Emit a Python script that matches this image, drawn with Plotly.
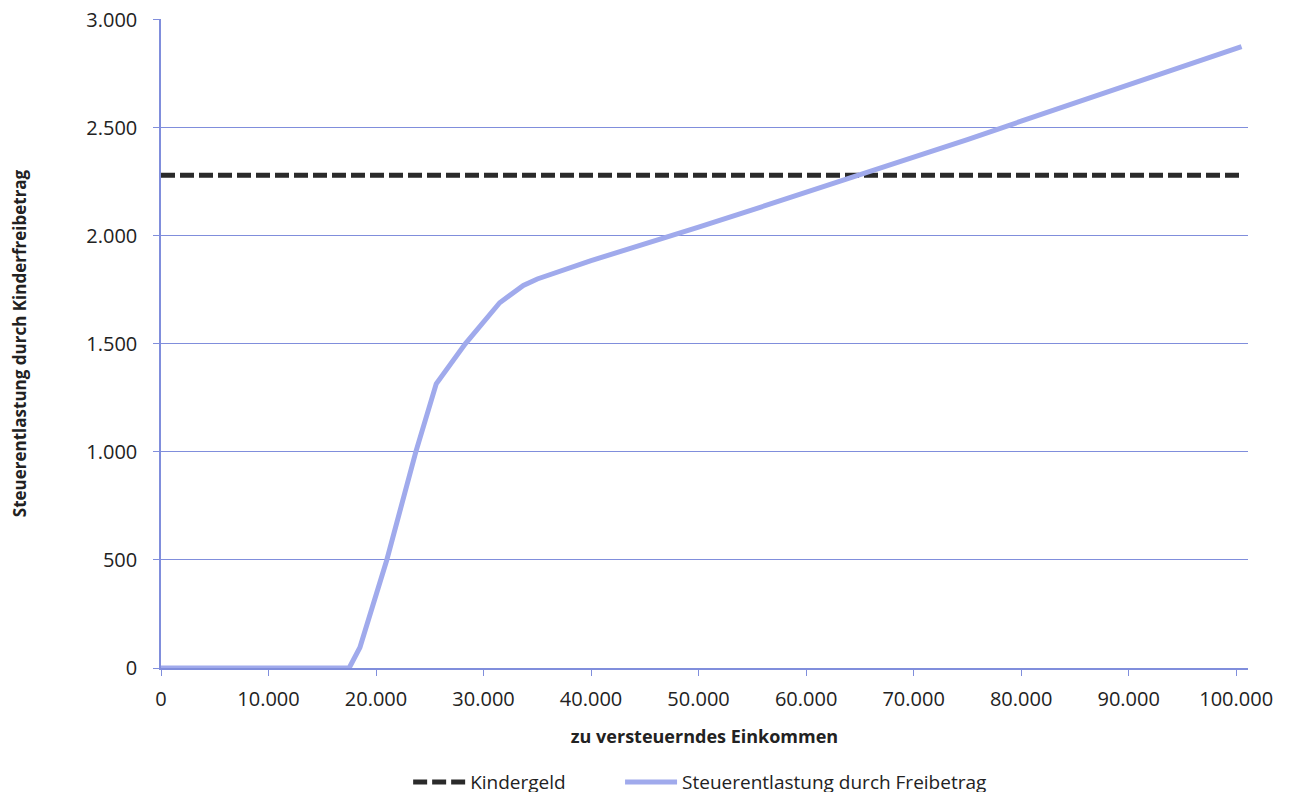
import plotly.graph_objects as go

# Data
einkommen = [0, 17500, 18500, 21000, 23700, 24700, 25600, 28300, 29700, 31500,
             33700, 35000, 40000, 45000, 47500, 50000, 55000, 60000, 65000,
             70000, 75000, 80000, 85000, 90000, 95000, 100500]
freibetrag = [0, 0, 95, 500, 1000, 1165, 1315, 1500, 1580, 1690,
              1770, 1800, 1885, 1960, 2000, 2040, 2120, 2200, 2280,
              2360, 2445, 2530, 2615, 2700, 2785, 2875]
kg_x = [0, 100500]
kindergeld = [2280, 2280]

grid_col = "rgb(128,142,220)"
curve_col = "rgb(160,170,236)"
font_fam = "Open Sans, Lato, sans-serif"
NB = "\u00a0"

fig = go.Figure()
fig.add_trace(go.Scatter(
    x=kg_x, y=kindergeld, mode="lines", name="Kindergeld" + NB * 10,
    line=dict(color="#2a2a2a", width=5, dash="14px,5px"),
))
fig.add_trace(go.Scatter(
    x=einkommen, y=freibetrag, mode="lines",
    name="Steuerentlastung durch Freibetrag",
    line=dict(color=curve_col, width=5),
))

# the page body adds an 8px offset, margins compensate for it;
# extra height below keeps the legend from pushing the plot margins
fig.update_layout(
    width=1298, height=900,
    paper_bgcolor="white", plot_bgcolor="white",
    margin=dict(l=153, r=58, t=11, b=240),
    separators=",.",
    font=dict(family=font_fam, color="#222222"),
    showlegend=True,
    legend=dict(
        orientation="h", x=0.496, xanchor="center",
        y=-0.1757, yanchor="middle",
        font=dict(size=19, family=font_fam, color="#222222"),
        traceorder="normal", itemwidth=52,
    ),
)
fig.update_xaxes(
    range=[0, 101100], tick0=0, dtick=10000, tickformat=",d",
    showgrid=False, showline=True, linecolor=grid_col, linewidth=1.5,
    ticks="outside", ticklen=6, tickcolor=grid_col,
    tickfont=dict(size=20, family=font_fam, color="#222222"),
    ticklabelstandoff=6, ticklabeloverflow="allow",
    zeroline=False, automargin=False,
    title=dict(text="<b>zu versteuerndes Einkommen</b>",
               font=dict(size=18, family=font_fam, color="#222222"),
               standoff=20),
)
fig.update_yaxes(
    range=[0, 3003], tick0=0, dtick=500, tickformat=",d",
    showgrid=True, gridcolor=grid_col, gridwidth=1.3,
    showline=True, linecolor=grid_col, linewidth=1.5,
    ticks="outside", ticklen=6, tickcolor=grid_col,
    tickfont=dict(size=20, family=font_fam, color="#222222"),
    ticklabelstandoff=12, ticklabeloverflow="allow",
    zeroline=False, automargin=False,
    title=dict(text="<b>Steuerentlastung durch Kinderfreibetrag</b>",
               font=dict(size=17, family=font_fam, color="#222222"),
               standoff=58),
)

fig.write_html("out.html")
